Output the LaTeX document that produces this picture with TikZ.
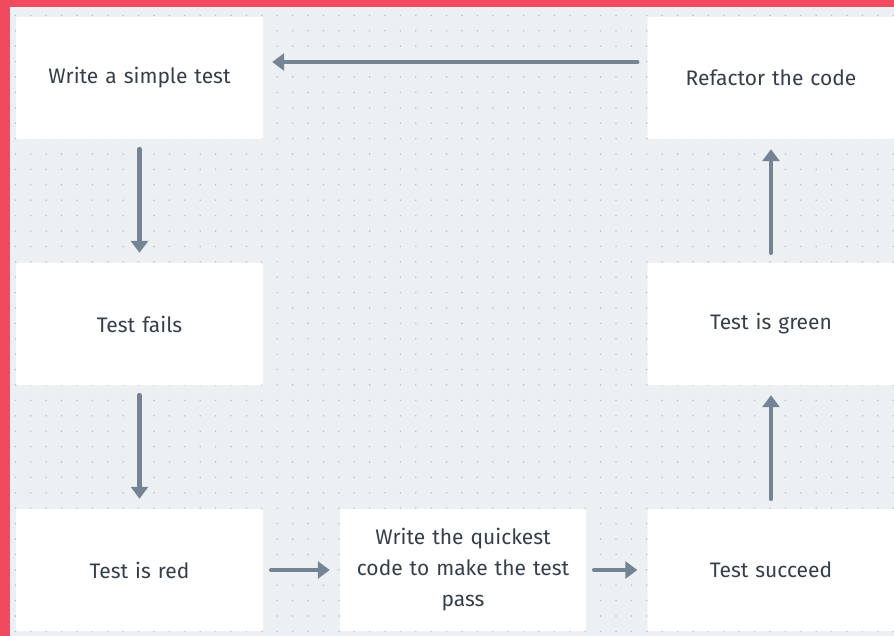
\documentclass[tikz,border=0pt]{standalone}
\usepackage{fontspec}
\setmainfont{Fira Sans}
\usetikzlibrary{arrows.meta}
\definecolor{frame}{HTML}{F04A5E}
\definecolor{canvas}{HTML}{EDF0F3}
\definecolor{griddot}{HTML}{BFC6CE}
\definecolor{flow}{HTML}{748495}
\definecolor{label}{HTML}{353F4A}
\begin{document}
\begin{tikzpicture}[x=1pt,y=-1pt,
  stepbox/.style={fill=white, rounded corners=2pt, minimum width=247pt,
    minimum height=122pt, text width=235pt, align=center,
    font=\fontsize{21}{31}\selectfont, text=label, inner sep=0pt},
  flowarrow/.style={draw=flow, line width=4.5pt, line cap=round,
    -{Triangle[length=12pt,width=17pt]}}]
  \useasboundingbox (0,0) rectangle (894,636);
  % outer frame and canvas
  \fill[frame] (0,0) rectangle (894,636);
  \fill[canvas] (10,7) rectangle (894,636);
  % dotted grid
  \foreach \i in {1,...,58}
    \foreach \j in {1,...,41}
      \fill[griddot] (\i*15.4,\j*15.4) circle (0.9pt);
  % process steps
  \node[stepbox] (write)    at (139.5,78)  {Write a simple test};
  \node[stepbox] (refactor) at (771,78)    {Refactor the code};
  \node[stepbox] (fails)    at (139.5,324) {Test fails};
  \node[stepbox] (green)    at (771,324)   {Test is green};
  \node[stepbox] (red)      at (139.5,570) {Test is red};
  \node[stepbox, minimum width=246pt, text width=230pt] (quick) at (463,570)
    {Write the quickest\\code to make the test\\pass};
  \node[stepbox] (succeed)  at (771,570) {Test succeed};
  % cycle arrows
  \draw[flowarrow] ([yshift=-10pt]write.south) -- ([yshift=10pt]fails.north);
  \draw[flowarrow] ([yshift=-10pt]fails.south) -- ([yshift=10pt]red.north);
  \draw[flowarrow] ([xshift=8pt]red.east) -- ([xshift=-10pt]quick.west);
  \draw[flowarrow] ([xshift=8pt]quick.east) -- ([xshift=-10pt]succeed.west);
  \draw[flowarrow] ([yshift=10pt]succeed.north) -- ([yshift=-10pt]green.south);
  \draw[flowarrow] ([yshift=10pt]green.north) -- ([yshift=-10pt]refactor.south);
  \draw[flowarrow] ([xshift=-10pt,yshift=16pt]refactor.west)
    -- ([xshift=9pt,yshift=16pt]write.east);
\end{tikzpicture}
\end{document}
